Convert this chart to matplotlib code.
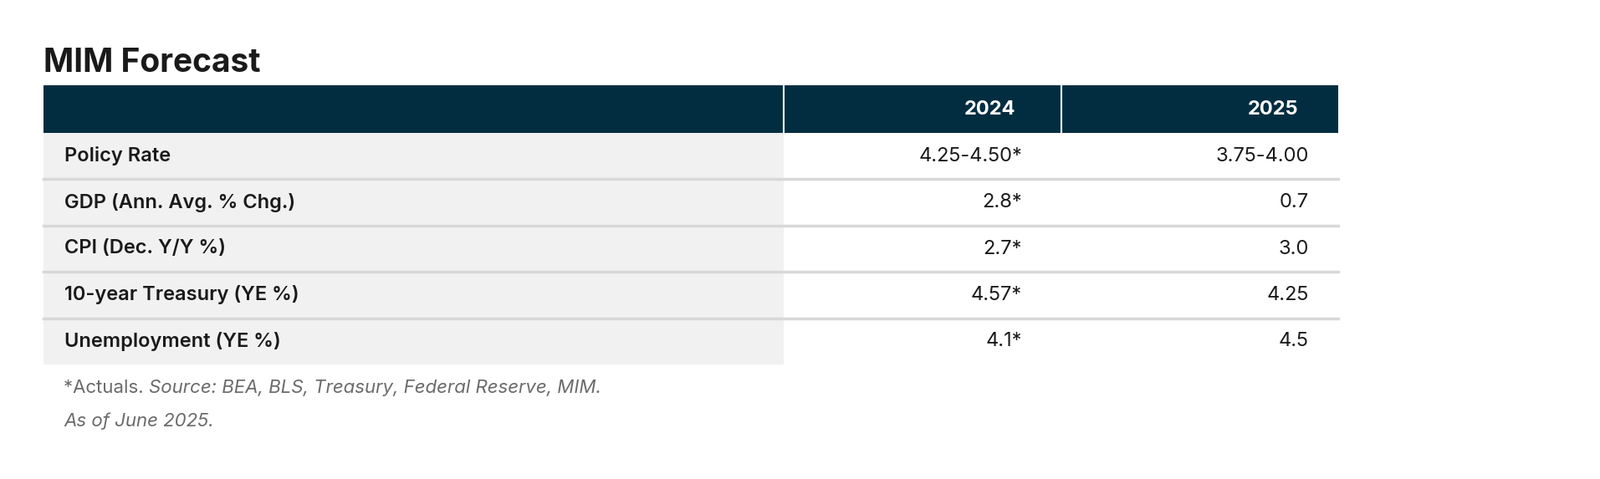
import matplotlib.pyplot as plt
from matplotlib.patches import Rectangle

title = "MIM Forecast"
years = ["2024", "2025"]
rows = ["Policy Rate", "GDP (Ann. Avg. % Chg.)", "CPI (Dec. Y/Y %)",
        "10-year Treasury (YE %)", "Unemployment (YE %)"]
vals_2024 = ["4.25-4.50*", "2.8*", "2.7*", "4.57*", "4.1*"]
vals_2025 = ["3.75-4.00", "0.7", "3.0", "4.25", "4.5"]
note1 = "*Actuals. "
note1_it = "Source: BEA, BLS, Treasury, Federal Reserve, MIM."
note2 = "As of June 2025."

navy = "#022d40"
font = "Inter"

fig = plt.figure(figsize=(19.13, 5.73), dpi=100)
ax = fig.add_axes([0, 0, 1, 1])
ax.set_xlim(0, 1913)
ax.set_ylim(573, 0)
ax.axis("off")

ax.text(52, 86, title, fontsize=28, fontweight="bold", color="#1a1a1a",
        family=font, va="baseline")

# header
ax.add_patch(Rectangle((52, 102), 1548, 57, color=navy, lw=0))
for x in (937, 1269):
    ax.plot([x, x], [102, 159], color="white", lw=1.5)
ax.text(1214, 131, years[0], color="white", fontsize=17, fontweight="bold",
        family=font, ha="right", va="center")
ax.text(1552, 131, years[1], color="white", fontsize=17, fontweight="bold",
        family=font, ha="right", va="center")

top = 159
h = 55.4
ax.add_patch(Rectangle((52, top), 885, h * len(rows), color="#f1f1f1", lw=0))
for i, name in enumerate(rows):
    yc = top + h * i + h / 2
    ax.text(77, yc, name, fontsize=17, fontweight="semibold", color="#1a1a1a",
            family=font, va="center")
    ax.text(1222, yc, vals_2024[i], fontsize=17, color="#1a1a1a",
            family=font, ha="right", va="center")
    ax.text(1565, yc, vals_2025[i], fontsize=17, color="#1a1a1a",
            family=font, ha="right", va="center")
    if i > 0:
        ax.plot([52, 1600], [top + h * i] * 2, color="#d8d8d8", lw=2.5)

t = ax.text(76, 464, note1, fontsize=16, color="#6b6b6b", family=font, va="center")
fig.canvas.draw()
bb = t.get_window_extent()
ax.annotate(note1_it, xy=(1, 0.5), xycoords=t, va="center", fontsize=16,
            color="#6b6b6b", family=font, style="italic")
ax.text(76, 504, note2, fontsize=16, color="#6b6b6b", family=font,
        style="italic", va="center")

fig.savefig("out.png", dpi=100)
